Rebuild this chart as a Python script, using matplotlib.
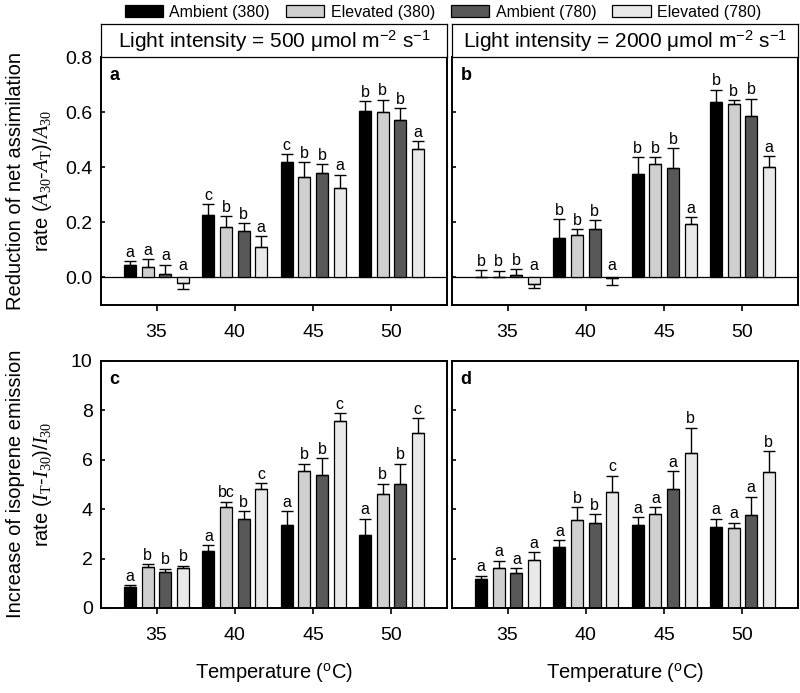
import matplotlib
matplotlib.use('Agg')
import matplotlib.pyplot as plt
import numpy as np
from matplotlib.patches import Patch

plt.rcParams['font.family'] = ['Liberation Sans', 'DejaVu Sans']
plt.rcParams['mathtext.fontset'] = 'custom'
plt.rcParams['mathtext.rm'] = 'Liberation Serif'
plt.rcParams['mathtext.it'] = 'Liberation Serif:italic'
plt.rcParams['mathtext.sf'] = 'Liberation Sans'

temps = ['35', '40', '45', '50']
series = ['Ambient (380)', 'Elevated (380)', 'Ambient (780)', 'Elevated (780)']
colors = ['#000000', '#cfcfcf', '#585858', '#e9e9e9']

# panel a: light 500, reduction of net assimilation
a_amb380 = [0.046, 0.227, 0.418, 0.604]
a_ele380 = [0.037, 0.182, 0.366, 0.602]
a_amb780 = [0.012, 0.167, 0.379, 0.572]
a_ele780 = [-0.021, 0.110, 0.326, 0.465]
a_se = [[0.012, 0.038, 0.030, 0.035],
        [0.029, 0.040, 0.053, 0.043],
        [0.034, 0.030, 0.033, 0.042],
        [0.021, 0.039, 0.047, 0.030]]
a_let = [['a', 'c', 'c', 'b'], ['a', 'b', 'b', 'b'],
         ['a', 'b', 'b', 'b'], ['a', 'a', 'a', 'a']]

# panel b: light 2000, reduction of net assimilation
b_amb380 = [0.003, 0.143, 0.376, 0.638]
b_ele380 = [0.003, 0.155, 0.413, 0.630]
b_amb780 = [0.008, 0.176, 0.396, 0.585]
b_ele780 = [-0.023, -0.002, 0.195, 0.400]
b_se = [[0.024, 0.068, 0.061, 0.044],
        [0.021, 0.019, 0.024, 0.013],
        [0.021, 0.031, 0.072, 0.064],
        [0.014, 0.025, 0.023, 0.041]]
b_let = [['b', 'b', 'b', 'b'], ['b', 'b', 'b', 'b'],
         ['b', 'b', 'b', 'b'], ['a', 'a', 'a', 'a']]

# panel c: light 500, increase of isoprene emission
c_amb380 = [0.84, 2.30, 3.35, 2.97]
c_ele380 = [1.64, 4.09, 5.55, 4.61]
c_amb780 = [1.47, 3.62, 5.38, 5.01]
c_ele780 = [1.62, 4.81, 7.58, 7.08]
c_se = [[0.09, 0.25, 0.56, 0.65],
        [0.14, 0.22, 0.30, 0.42],
        [0.12, 0.30, 0.69, 0.84],
        [0.10, 0.24, 0.31, 0.60]]
c_let = [['a', 'a', 'a', 'a'], ['b', 'bc', 'b', 'b'],
         ['b', 'b', 'b', 'b'], ['b', 'c', 'c', 'c']]

# panel d: light 2000, increase of isoprene emission
d_amb380 = [1.16, 2.45, 3.35, 3.26]
d_ele380 = [1.62, 3.58, 3.80, 3.22]
d_amb780 = [1.42, 3.46, 4.81, 3.78]
d_ele780 = [1.96, 4.68, 6.28, 5.50]
d_se = [[0.15, 0.29, 0.33, 0.36],
        [0.30, 0.49, 0.28, 0.24],
        [0.20, 0.35, 0.74, 0.73],
        [0.30, 0.67, 1.02, 0.84]]
d_let = [['a', 'a', 'a', 'a'], ['a', 'b', 'a', 'a'],
         ['a', 'b', 'a', 'a'], ['a', 'c', 'b', 'b']]

W, H = 800, 693
fig = plt.figure(figsize=(W / 100, H / 100), dpi=100)


def box(x0, y0, x1, y1):
    return [x0 / W, 1 - y1 / H, (x1 - x0) / W, (y1 - y0) / H]


def panel(rect, means, ses, letters, ylim, yticks, tag, show_ylabels):
    ax = fig.add_axes(box(*rect))
    x = np.arange(len(temps))
    step, width = 0.225, 0.152
    for i, (m, s) in enumerate(zip(means, ses)):
        m = np.array(m)
        s = np.array(s)
        xi = x + (i - 1.5) * step
        ax.bar(xi, m, width, color=colors[i], edgecolor='k', linewidth=0.9, zorder=2)
        lo = np.where(m < 0, s, 0)
        hi = np.where(m >= 0, s, 0)
        ax.errorbar(xi, m, yerr=[lo, hi], fmt='none', ecolor='k',
                    elinewidth=1, capsize=4.3, capthick=1, zorder=3)
        for j in range(len(temps)):
            if m[j] >= 0:
                ax.annotate(letters[i][j], (xi[j], m[j] + s[j]), xytext=(0, 1),
                            textcoords='offset points', ha='center', va='bottom',
                            fontsize=11.5)
            else:
                ax.annotate(letters[i][j], (xi[j], 0), xytext=(0, 3),
                            textcoords='offset points', ha='center', va='bottom',
                            fontsize=11.5)
    if ylim[0] < 0:
        ax.axhline(0, color='k', lw=0.9, zorder=1)
    ax.set_xlim(-0.71, 3.71)
    ax.set_ylim(*ylim)
    ax.set_xticks(x)
    ax.set_xticklabels(temps)
    ax.set_yticks(yticks)
    ax.tick_params(axis='x', direction='out', length=4, width=1.2, labelsize=14, pad=10)
    ax.tick_params(axis='y', direction='in', length=3, width=1.2, labelsize=14, pad=6)
    if not show_ylabels:
        ax.set_yticklabels([])
    for sp in ax.spines.values():
        sp.set_linewidth(1.4)
    ax.text(0.025, 0.925, tag, transform=ax.transAxes, fontsize=13,
            fontweight='bold', va='center', ha='left')
    return ax


top_ticks = [0.0, 0.2, 0.4, 0.6, 0.8]
ax_a = panel((101, 57, 447, 305), [a_amb380, a_ele380, a_amb780, a_ele780], a_se,
             a_let, (-0.1, 0.8), top_ticks, 'a', True)
ax_a.set_yticklabels(['0.0', '0.2', '0.4', '0.6', '0.8'])
panel((452, 57, 798, 305), [b_amb380, b_ele380, b_amb780, b_ele780], b_se,
      b_let, (-0.1, 0.8), top_ticks, 'b', False)
ax_c = panel((101, 361, 447, 608), [c_amb380, c_ele380, c_amb780, c_ele780], c_se,
             c_let, (0, 10), [0, 2, 4, 6, 8, 10], 'c', True)
ax_d = panel((452, 361, 798, 608), [d_amb380, d_ele380, d_amb780, d_ele780], d_se,
             d_let, (0, 10), [0, 2, 4, 6, 8, 10], 'd', False)

# light-intensity strips
for rect, lab in [((101, 24, 447, 57), '500'), ((452, 24, 798, 57), '2000')]:
    st = fig.add_axes(box(*rect))
    st.set_xticks([])
    st.set_yticks([])
    for sp in st.spines.values():
        sp.set_linewidth(0.9)
    st.text(0.5, 0.46, 'Light intensity = ' + lab +
            r' μmol m$^{\mathsf{-2}}$ s$^{\mathsf{-1}}$',
            ha='center', va='center', fontsize=15, transform=st.transAxes)

# y labels
fig.text(16 / W, 1 - 181 / H, 'Reduction of net assimilation', rotation=90,
         ha='center', va='center', fontsize=14.5)
fig.text(43 / W, 1 - 181 / H, r'rate ($A_{30}$-$A_{\mathrm{T}}$)/$A_{30}$', rotation=90,
         ha='center', va='center', fontsize=14.5)
fig.text(16 / W, 1 - 484 / H, 'Increase of isoprene emission', rotation=90,
         ha='center', va='center', fontsize=14.5)
fig.text(43 / W, 1 - 484 / H, r'rate ($I_{\mathrm{T}}$-$I_{30}$)/$I_{30}$', rotation=90,
         ha='center', va='center', fontsize=14.5)

# x labels
for cx in (274, 625):
    fig.text(cx / W, 1 - 673 / H, r'Temperature ($^{\mathsf{o}}$C)', ha='center',
             va='center', fontsize=14.5)

handles = [Patch(facecolor=c, edgecolor='k', linewidth=0.9) for c in colors]
fig.legend(handles, series, loc='center', bbox_to_anchor=(443 / W, 1 - 12 / H),
           ncol=4, frameon=False, fontsize=11.5, handlelength=2.4, handleheight=0.85,
           handletextpad=0.4, columnspacing=1.0, borderpad=0)

fig.savefig('out.png', dpi=100)
